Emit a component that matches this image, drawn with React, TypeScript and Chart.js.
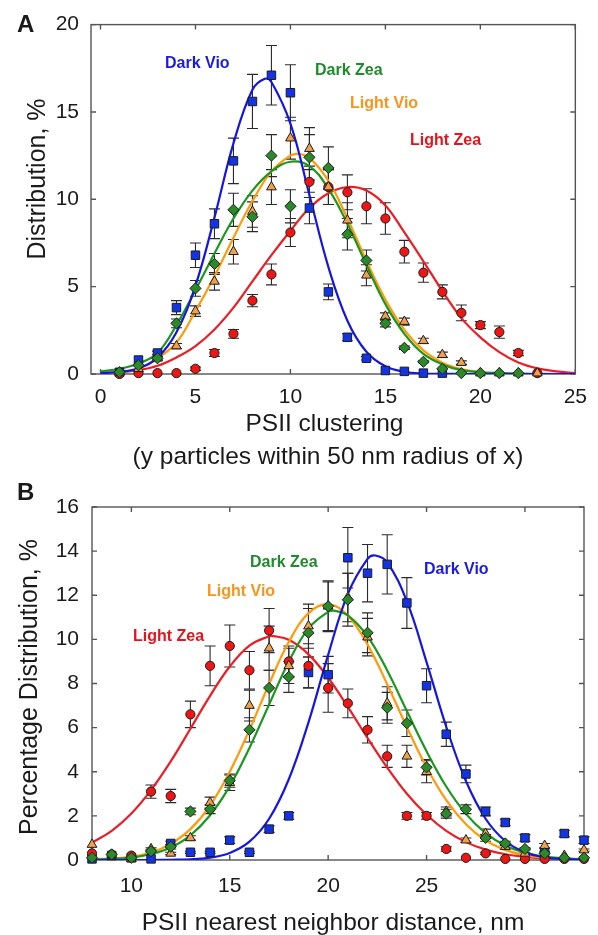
import React, { useEffect, useRef } from "react";
import { Chart, registerables } from "chart.js";

Chart.register(...registerables);

const FONT = "'Liberation Sans', Arial, Helvetica, sans-serif";

// ---------------- Panel A: PSII clustering ----------------
const xTicksA = [0, 5, 10, 15, 20, 25];
const yTicksA = [0, 5, 10, 15, 20];
const clusterX = [1, 2, 3, 4, 5, 6, 7, 8, 9, 10, 11, 12, 13, 14, 15, 16, 17, 18, 19, 20, 21, 22, 23];

const darkVioA = [0.1, 0.8, 1.2, 3.8, 6.8, 8.6, 12.2, 15.6, 17.1, 16.1, 9.5, 4.7, 2.1, 0.9, 0.2, 0.15, 0.05, 0.05, null, null, null, null, null];
const darkVioAErr = [0, 0, 0.1, 0.4, 0.7, 0.85, 1.3, 1.55, 1.7, 1.6, 0.9, 0.45, 0.2, 0.1, 0, 0, 0, 0, 0, 0, 0, 0, 0];
const darkZeaA = [0.1, 0.5, 0.9, 2.9, 4.9, 6.3, 9.4, 9.0, 12.5, 9.6, 12.4, 11.8, 8.0, 6.5, 2.9, 1.5, 0.7, 0.3, 0.05, 0.05, 0.05, 0.05, null];
const darkZeaAErr = [0, 0, 0.1, 0.25, 0.45, 0.6, 0.95, 0.85, 1.2, 0.95, 1.3, 1.2, 0.9, 0.6, 0.2, 0.1, 0.05, 0, 0, 0, 0, 0, 0];
const lightVioA = [0.1, 0.3, 0.9, 1.6, 3.6, 5.3, 7.0, 9.3, 10.7, 13.5, 12.9, 10.7, 8.8, 5.65, 3.3, 3.0, 1.9, 1.1, 0.65, 0.05, 0.05, 0.05, 0.05];
const lightVioAErr = [0, 0, 0.1, 0.15, 0.3, 0.5, 0.7, 0.9, 1.0, 1.2, 1.2, 1.0, 1.0, 0.6, 0.2, 0.2, 0.15, 0.15, 0.1, 0, 0, 0, 0];
const lightZeaA = [0, 0.05, 0.05, 0.05, 0.3, 1.2, 2.3, 4.2, 5.7, 8.1, 11.0, 10.7, 10.4, 9.6, 8.9, 7.0, 5.8, 4.7, 3.5, 2.8, 2.4, 1.2, 0.05];
const lightZeaAErr = [0, 0, 0, 0, 0.1, 0.2, 0.25, 0.35, 0.6, 0.8, 0.9, 1.0, 1.0, 1.0, 0.9, 0.65, 0.55, 0.4, 0.45, 0.2, 0.35, 0.15, 0];

// fitted curves
const fitGridA = [0, 1, 2, 3, 4, 5, 6, 7, 8, 9, 10, 11, 12, 13, 14, 15, 16, 17, 18, 19, 20, 21, 22, 23, 24, 25];
const darkVioFitAX = [0, 1, 2, 3, 4, 5, 6, 7, 8, 8.65, 9, 10, 11, 12, 13, 14, 15, 16, 17, 18, 19, 20, 21, 22, 23, 24, 25];
const darkVioFitA = [0.05, 0.12, 0.33, 0.94, 2.39, 5.06, 8.95, 13.2, 16.27, 16.9, 16.71, 14.33, 10.25, 6.12, 3.05, 1.27, 0.44, 0.13, 0.03, 0.01, 0, 0, 0, 0, 0, 0, 0];
const darkZeaFitA = [0.15, 0.3, 0.6, 1.2, 2.8, 4.8, 6.9, 8.9, 10.5, 11.6, 12.15, 11.9, 10.6, 8.6, 6.25, 4.0, 2.3, 1.15, 0.55, 0.22, 0.1, 0.05, 0.02, 0.01, 0, 0];
const lightVioFitAX = [0, 1, 2, 3, 4, 5, 6, 7, 8, 9, 10, 10.4, 11, 12, 13, 14, 15, 16, 17, 18, 19, 20, 21, 22, 23, 24, 25];
const lightVioFitA = [0.05, 0.1, 0.3, 0.9, 1.8, 3.6, 5.6, 7.8, 9.9, 11.6, 12.5, 12.6, 12.37, 11.05, 8.9, 6.48, 4.26, 2.53, 1.35, 0.65, 0.28, 0.11, 0.04, 0.01, 0, 0, 0];
const lightZeaFitA = [0.04, 0.1, 0.22, 0.47, 0.95, 1.6, 2.55, 3.8, 5.3, 6.8, 8.2, 9.5, 10.35, 10.7, 10.5, 9.65, 8.1, 6.45, 4.75, 3.2, 2.1, 1.25, 0.66, 0.32, 0.15, 0.05];

// ---------------- Panel B: nearest neighbor distance ----------------
const xTicksB = [10, 15, 20, 25, 30];
const yTicksB = [0, 2, 4, 6, 8, 10, 12, 14, 16];
const distX = [8, 9, 10, 11, 12, 13, 14, 15, 16, 17, 18, 19, 20, 21, 22, 23, 24, 25, 26, 27, 28, 29, 30, 31, 32, 33];

const darkVioB = [0.05, 0.2, 0.1, 0.05, 0.75, 0.35, 0.35, 0.9, 0.35, 1.4, 2.0, 8.5, 8.4, 13.7, 13.0, 13.4, 11.65, 7.9, 5.7, 3.9, 2.2, 1.7, 1.0, 0.35, 1.2, 0.9];
const darkVioBErr = [0, 0, 0, 0, 0.1, 0.05, 0.05, 0.15, 0.05, 0.15, 0.15, 0.7, 0.83, 1.37, 1.3, 1.34, 1.15, 0.77, 0.55, 0.4, 0.2, 0.15, 0.15, 0.05, 0.15, 0.15];
const darkZeaB = [0.1, 0.25, 0.1, 0.4, 0.6, 2.2, 2.3, 3.6, 5.9, 7.8, 8.3, 10.3, 11.5, 11.8, 10.3, 6.9, 6.2, 4.2, 2.1, 2.3, 1.0, 0.75, 0.5, 0.3, 0.1, 0.1];
const darkZeaBErr = [0, 0, 0, 0.05, 0.1, 0.15, 0.2, 0.3, 0.55, 0.8, 0.7, 1.1, 1.1, 1.2, 0.9, 0.7, 0.6, 0.35, 0.2, 0.2, 0.15, 0.1, 0.05, 0, 0, 0];
const lightVioB = [0.7, 0.25, 0.05, 0.5, 0.3, 1.0, 2.6, 3.5, 7.0, 9.6, 8.8, 10.6, 11.5, 11.9, 10.1, 7.1, 4.7, 4.0, 2.2, 0.9, 1.2, 0.6, 0.3, 0.65, 0.2, 0.45];
const lightVioBErr = [0, 0, 0, 0.05, 0.05, 0.1, 0.25, 0.35, 0.7, 1.0, 0.8, 1.0, 1.15, 1.1, 0.85, 0.75, 0.5, 0.5, 0.2, 0.1, 0.2, 0.1, 0.05, 0.1, 0, 0.05];
const lightZeaB = [0.3, 0.25, 0.2, 3.1, 2.9, 6.6, 8.8, 9.7, 8.6, 10.4, 9.0, 8.8, 7.8, 7.1, 5.9, 4.7, 2.0, 2.0, 0.5, 0.1, 0.3, 0.05, 0.05, 0.05, 0.05, 0.05];
const lightZeaBErr = [0, 0, 0, 0.3, 0.3, 0.6, 0.9, 0.95, 0.85, 1.0, 0.7, 1.0, 1.1, 0.65, 0.6, 0.5, 0.15, 0.15, 0.1, 0, 0.05, 0, 0, 0, 0, 0];

const darkVioFitBX = [8, 9, 10, 11, 12, 13, 14, 15, 16, 17, 18, 19, 20, 21, 22, 22.4, 23, 24, 25, 26, 27, 28, 29, 30, 31, 32, 33];
const darkVioFitB = [0, 0, 0, 0, 0.01, 0.03, 0.11, 0.32, 0.83, 1.87, 3.66, 6.24, 9.3, 12.06, 13.65, 13.8, 13.49, 11.72, 8.97, 6.04, 3.58, 1.87, 0.86, 0.35, 0.12, 0.04, 0.01];
const darkZeaFitBX = [8, 9, 10, 11, 12, 13, 14, 15, 16, 17, 18, 19, 20, 20.3, 21, 22, 23, 24, 25, 26, 27, 28, 29, 30, 31, 32, 33];
const darkZeaFitB = [0.02, 0.05, 0.11, 0.27, 0.57, 1.12, 2.03, 3.35, 5.08, 7.05, 8.99, 10.5, 11.25, 11.3, 11.09, 10.14, 8.59, 6.75, 4.93, 3.33, 2.09, 1.22, 0.66, 0.33, 0.15, 0.07, 0.03];
const lightVioFitB = [0.05, 0.06, 0.15, 0.34, 0.73, 1.4, 2.47, 4.0, 5.9, 7.98, 9.88, 11.19, 11.6, 11.07, 9.76, 7.97, 6.02, 4.2, 2.71, 1.62, 0.89, 0.46, 0.22, 0.09, 0.04, 0.015];
const lightZeaFitBX = [8, 9, 10, 11, 12, 13, 14, 15, 16, 17, 17.2, 18, 19, 20, 21, 22, 23, 24, 25, 26, 27, 28, 29, 30, 31, 32, 33];
const lightZeaFitB = [0.78, 1.32, 2.11, 3.17, 4.47, 5.95, 7.44, 8.77, 9.72, 10.14, 10.15, 9.98, 9.32, 8.26, 6.94, 5.53, 4.19, 3.0, 2.05, 1.32, 0.81, 0.47, 0.26, 0.14, 0.07, 0.03, 0.015];

// ---------------- styles ----------------
const BLUE_LINE = "#1616e0";
const GREEN_LINE = "#1b961f";
const ORANGE_LINE = "#ff9a0a";
const RED_LINE = "#ee1c24";
const BLUE_FILL = "#1234e6";
const GREEN_FILL = "#2a8a2a";
const ORANGE_FILL = "#f0a04a";
const RED_FILL = "#ee1515";

function pts(xs: number[], ys: (number | null)[]) {
  return xs.map((x, i) => ({ x, y: ys[i] })).filter((p) => p.y !== null);
}
function errs(ys: (number | null)[], es: number[]) {
  return ys.map((y, i) => ({ y, e: es[i] })).filter((p) => p.y !== null).map((p) => p.e);
}
function fitDs(xs: number[], ys: number[], color: string, order: number) {
  return {
    type: "line",
    data: xs.map((x, i) => ({ x, y: ys[i] })),
    borderColor: color,
    borderWidth: 2.2,
    pointRadius: 0,
    tension: 0.4,
    fill: false,
    order,
  };
}
function markDs(xs: number[], ys: (number | null)[], es: number[], style: string, fill: string, radius: number, order: number) {
  return {
    type: "scatter",
    data: pts(xs, ys),
    errors: errs(ys, es),
    pointStyle: style,
    pointBackgroundColor: fill,
    pointBorderColor: "#1c1c1c",
    pointBorderWidth: 1,
    pointRadius: radius,
    pointHoverRadius: radius,
    showLine: false,
    clip: false,
    order,
  };
}

const framePlugin = {
  id: "frame",
  beforeDatasetsDraw(chart: any, _a: any, opts: any) {
    const { ctx, chartArea: a, scales } = chart;
    const x = scales.x;
    const y = scales.y;
    const L = 5;
    ctx.save();
    ctx.strokeStyle = "#555";
    ctx.lineWidth = 1.4;
    ctx.strokeRect(a.left, a.top, a.right - a.left, a.bottom - a.top);
    ctx.beginPath();
    for (const v of opts.xTicks) {
      const px = x.getPixelForValue(v);
      ctx.moveTo(px, a.bottom);
      ctx.lineTo(px, a.bottom - L);
      ctx.moveTo(px, a.top);
      ctx.lineTo(px, a.top + L);
    }
    for (const v of opts.yTicks) {
      const py = y.getPixelForValue(v);
      ctx.moveTo(a.left, py);
      ctx.lineTo(a.left + L, py);
      ctx.moveTo(a.right, py);
      ctx.lineTo(a.right - L, py);
    }
    ctx.stroke();

    // error bars
    ctx.strokeStyle = "#2a2a2a";
    ctx.lineWidth = 1.1;
    const cap = 5.5;
    chart.data.datasets.forEach((ds: any) => {
      if (!ds.errors) return;
      ds.data.forEach((p: any, i: number) => {
        const e = ds.errors[i];
        if (!e) return;
        const px = x.getPixelForValue(p.x);
        const top = y.getPixelForValue(p.y + e);
        const bot = y.getPixelForValue(p.y - e);
        ctx.beginPath();
        ctx.moveTo(px, top);
        ctx.lineTo(px, bot);
        ctx.moveTo(px - cap, top);
        ctx.lineTo(px + cap, top);
        ctx.moveTo(px - cap, bot);
        ctx.lineTo(px + cap, bot);
        ctx.stroke();
      });
    });
    ctx.restore();
  },
};

function makeConfig(p: any) {
  return {
    type: "scatter",
    data: { datasets: p.datasets },
    plugins: [framePlugin],
    options: {
      responsive: false,
      animation: false,
      devicePixelRatio: 1,
      events: [],
      layout: { padding: p.padding },
      plugins: {
        legend: { display: false },
        tooltip: { enabled: false },
        frame: { xTicks: p.xTicks, yTicks: p.yTicks },
      },
      scales: {
        x: {
          type: "linear",
          min: p.xMin,
          max: p.xMax,
          grid: { display: false, drawTicks: false },
          border: { display: false },
          ticks: {
            autoSkip: false,
            includeBounds: false,
            padding: p.xPad,
            color: "#1a1a1a",
            font: { family: FONT, size: 21 },
            maxRotation: 0,
          },
          afterBuildTicks: (s: any) => {
            s.ticks = p.xTicks.map((v: number) => ({ value: v }));
          },
          afterFit: (s: any) => {
            s.height = p.xH;
          },
        },
        y: {
          type: "linear",
          min: p.yMin,
          max: p.yMax,
          grid: { display: false, drawTicks: false },
          border: { display: false },
          ticks: {
            autoSkip: false,
            includeBounds: false,
            padding: p.yPad,
            color: "#1a1a1a",
            font: { family: FONT, size: 21 },
          },
          afterBuildTicks: (s: any) => {
            s.ticks = p.yTicks.map((v: number) => ({ value: v }));
          },
          afterFit: (s: any) => {
            s.width = p.yW;
          },
        },
      },
    },
  };
}

const panelA = () => ({
  datasets: [
    markDs(clusterX, darkZeaA, darkZeaAErr, "rectRot", GREEN_FILL, 5.6, 1),
    markDs(clusterX, lightVioA, lightVioAErr, "triangle", ORANGE_FILL, 5.6, 2),
    markDs(clusterX, lightZeaA, lightZeaAErr, "circle", RED_FILL, 4.6, 3),
    markDs(clusterX, darkVioA, darkVioAErr, "rect", BLUE_FILL, 6, 4),
    fitDs(darkVioFitAX, darkVioFitA, BLUE_LINE, 10),
    fitDs(fitGridA, darkZeaFitA, GREEN_LINE, 11),
    fitDs(lightVioFitAX, lightVioFitA, ORANGE_LINE, 12),
    fitDs(fitGridA, lightZeaFitA, RED_LINE, 13),
  ],
  xTicks: xTicksA,
  yTicks: yTicksA,
  xMin: -0.5,
  xMax: 25,
  yMin: 0,
  yMax: 20,
  padding: { left: 0, top: 22, right: 21, bottom: 4 },
  xH: 100,
  yW: 91,
  xPad: 11,
  yPad: 12,
});

const panelB = () => ({
  datasets: [
    markDs(distX, darkZeaB, darkZeaBErr, "rectRot", GREEN_FILL, 5.6, 1),
    markDs(distX, lightVioB, lightVioBErr, "triangle", ORANGE_FILL, 5.6, 2),
    markDs(distX, lightZeaB, lightZeaBErr, "circle", RED_FILL, 4.6, 3),
    markDs(distX, darkVioB, darkVioBErr, "rect", BLUE_FILL, 6, 4),
    fitDs(darkVioFitBX, darkVioFitB, BLUE_LINE, 10),
    fitDs(darkZeaFitBX, darkZeaFitB, GREEN_LINE, 11),
    fitDs(distX, lightVioFitB, ORANGE_LINE, 12),
    fitDs(lightZeaFitBX, lightZeaFitB, RED_LINE, 13),
  ],
  xTicks: xTicksB,
  yTicks: yTicksB,
  xMin: 8,
  xMax: 33,
  yMin: 0,
  yMax: 16,
  padding: { left: 0, top: 29, right: 14, bottom: 0 },
  xH: 75,
  yW: 92,
  xPad: 14,
  yPad: 13,
});

function ChartCanvas({ make, top, height }: { make: () => any; top: number; height: number }) {
  const ref = useRef<HTMLCanvasElement>(null);
  useEffect(() => {
    const chart = new Chart(ref.current as HTMLCanvasElement, makeConfig(make()) as any);
    return () => chart.destroy();
  }, []);
  return (
    <canvas
      ref={ref}
      width={598}
      height={height}
      style={{ position: "absolute", left: 0, top, width: 598, height }}
    />
  );
}

function Txt({ text, left, top, size, color, bold, center }: any) {
  return (
    <div
      style={{
        position: "absolute",
        left,
        top,
        fontFamily: FONT,
        fontSize: size,
        fontWeight: bold ? 700 : 400,
        lineHeight: 1,
        color: color || "#1a1a1a",
        whiteSpace: "nowrap",
        transform: center ? "translateX(-50%)" : undefined,
      }}
    >
      {text}
    </div>
  );
}

function VTxt({ text, cx, cy, size }: any) {
  return (
    <div
      style={{
        position: "absolute",
        left: cx,
        top: cy,
        fontFamily: FONT,
        fontSize: size,
        lineHeight: 1,
        color: "#1a1a1a",
        whiteSpace: "nowrap",
        transform: "translate(-50%, -50%) rotate(-90deg)",
      }}
    >
      {text}
    </div>
  );
}

export default function App() {
  return (
    <div
      style={{
        position: "absolute",
        left: 0,
        top: 0,
        width: 598,
        height: 935,
        overflow: "hidden",
        background: "#fff",
      }}
    >
      <ChartCanvas make={panelA} top={0} height={478} />
      <ChartCanvas make={panelB} top={478} height={457} />

      <Txt text="A" left={17} top={12} size={24} bold />
      <Txt text="B" left={17} top={480} size={24} bold />

      <VTxt text="Distribution, %" cx={36} cy={179} size={25} />
      <VTxt text="Percentage Distribution, %" cx={27.5} cy={687} size={25} />

      <Txt text="PSII clustering" left={324.5} top={411} size={24.5} center />
      <Txt text="(y particles within 50 nm radius of x)" left={328} top={443.5} size={24.5} center />
      <Txt text="PSII nearest neighbor distance, nm" left={333} top={910} size={24.5} center />

      <Txt text="Dark Vio" left={165} top={55} size={16} bold color="#1a1ae0" />
      <Txt text="Dark Zea" left={315} top={62} size={16} bold color="#1e8c2a" />
      <Txt text="Light Vio" left={350} top={95} size={16} bold color="#f7941d" />
      <Txt text="Light Zea" left={410} top={132} size={16} bold color="#e3141b" />

      <Txt text="Dark Zea" left={250} top={554} size={16} bold color="#1e8c2a" />
      <Txt text="Light Vio" left={207} top={583} size={16} bold color="#f7941d" />
      <Txt text="Light Zea" left={133} top={628} size={16} bold color="#e3141b" />
      <Txt text="Dark Vio" left={424} top={561} size={16} bold color="#1a1ae0" />
    </div>
  );
}
